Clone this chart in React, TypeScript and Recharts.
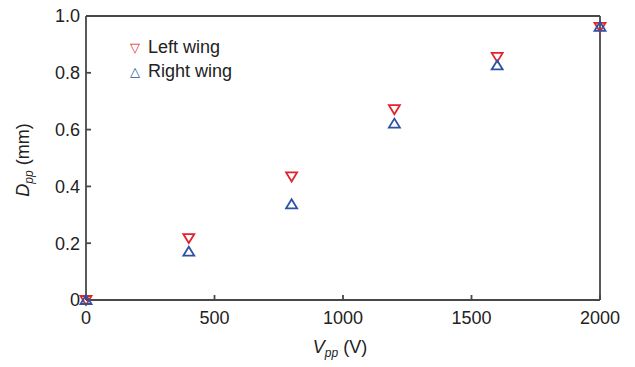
import React from "react";
import { ScatterChart, Scatter, XAxis, YAxis, Legend } from "recharts";

const voltages = [0, 400, 800, 1200, 1600, 2000];
const leftWing = [0.0, 0.218, 0.435, 0.672, 0.856, 0.962];
const rightWing = [0.0, 0.17, 0.337, 0.621, 0.826, 0.962];
const xTicks = [0, 500, 1000, 1500, 2000];
const yTicks = [0, 0.2, 0.4, 0.6, 0.8, 1.0];
const seriesNames = ["Left wing", "Right wing"];

const leftData = voltages.map((v, i) => ({ x: v, y: leftWing[i] }));
const rightData = voltages.map((v, i) => ({ x: v, y: rightWing[i] }));

const RED = "#e2232c";
const BLUE = "#2c52a6";
const TEXT = "#222";
const FONT = "'Liberation Sans', Arial, sans-serif";

const DownTri = (props: any) => {
  const { cx, cy } = props;
  if (cx == null || cy == null) return null;
  return <polygon points={`${cx - 5.5},${cy - 4} ${cx + 5.5},${cy - 4} ${cx},${cy + 5}`} fill="none" stroke={RED} strokeWidth={1.8} />;
};
const UpTri = (props: any) => {
  const { cx, cy } = props;
  if (cx == null || cy == null) return null;
  return <polygon points={`${cx - 5.5},${cy + 4} ${cx + 5.5},${cy + 4} ${cx},${cy - 5}`} fill="none" stroke={BLUE} strokeWidth={1.8} />;
};

const glyph: React.CSSProperties = {
  position: "absolute",
  left: 4,
  width: 12,
  textAlign: "center",
  fontFamily: "'DejaVu Sans', sans-serif",
  fontSize: 13,
  lineHeight: "13px",
  fontWeight: "bold",
};
const legText: React.CSSProperties = {
  position: "absolute",
  left: 23,
  fontFamily: FONT,
  fontSize: 18,
  lineHeight: "18px",
  color: TEXT,
  whiteSpace: "nowrap",
};

const LegendContent = () => (
  <div style={{ position: "relative", width: 160, height: 56 }}>
    <span style={{ ...glyph, top: 10.5, color: RED }}>▽</span>
    <span style={{ ...legText, top: 7.75 }}>{seriesNames[0]}</span>
    <span style={{ ...glyph, top: 34.5, color: BLUE }}>△</span>
    <span style={{ ...legText, top: 31.75 }}>{seriesNames[1]}</span>
  </div>
);

const fmtY = (v: number) => (v === 0 ? "0" : v.toFixed(1));
const blank = () => "";
const tickText = { fill: TEXT, fontSize: 18, fontFamily: FONT };
const ls = { stroke: "#484848", strokeWidth: 1.8 };

const titleBase: React.CSSProperties = {
  position: "absolute",
  fontFamily: FONT,
  fontSize: 18,
  lineHeight: "18px",
  color: TEXT,
  textAlign: "center",
  whiteSpace: "nowrap",
  width: 200,
  height: 18,
};
const subStyle: React.CSSProperties = { fontStyle: "italic", fontSize: 12, position: "relative", top: 4 };

export default function App() {
  return (
    <div style={{ position: "absolute", left: 0, top: 0, width: 635, height: 367, background: "#fff" }}>
      <ScatterChart width={635} height={367} margin={{ top: 15, right: 0, bottom: 0, left: 0 }}>
        <XAxis xAxisId="bottom" type="number" dataKey="x" orientation="bottom" domain={[0, 2000]} ticks={xTicks} height={67} tickSize={-5} tickMargin={16} axisLine={ls} tickLine={ls} tick={tickText} interval={0} />
        <XAxis xAxisId="top" type="number" dataKey="x" orientation="top" domain={[0, 2000]} ticks={xTicks} height={1} tickSize={-5} axisLine={ls} tickLine={ls} tickFormatter={blank} interval={0} />
        <YAxis yAxisId="left" type="number" dataKey="y" orientation="left" domain={[0, 1]} ticks={yTicks} width={86} tickSize={-5} tickMargin={11} axisLine={ls} tickLine={ls} tick={tickText} tickFormatter={fmtY} interval={0} />
        <YAxis yAxisId="right" type="number" dataKey="y" orientation="right" domain={[0, 1]} ticks={yTicks} width={35} tickSize={-5} axisLine={ls} tickLine={ls} tickFormatter={blank} interval={0} />
        <Legend layout="vertical" align="center" verticalAlign="middle" content={<LegendContent />} wrapperStyle={{ position: "absolute", left: 125, top: 30, width: 160, height: 56 }} />
        <Scatter name={seriesNames[0]} data={leftData} xAxisId="bottom" yAxisId="left" shape={<DownTri />} isAnimationActive={false} />
        <Scatter name={seriesNames[1]} data={rightData} xAxisId="bottom" yAxisId="left" shape={<UpTri />} isAnimationActive={false} />
      </ScatterChart>
      <div style={{ ...titleBase, left: 240, top: 338 }}>
        <span style={{ fontStyle: "italic" }}>V</span>
        <span style={subStyle}>pp</span>
        <span> (V)</span>
      </div>
      <div style={{ ...titleBase, left: -77, top: 151, transform: "rotate(-90deg)", transformOrigin: "50% 50%" }}>
        <span style={{ fontStyle: "italic" }}>D</span>
        <span style={subStyle}>pp</span>
        <span> (mm)</span>
      </div>
    </div>
  );
}
